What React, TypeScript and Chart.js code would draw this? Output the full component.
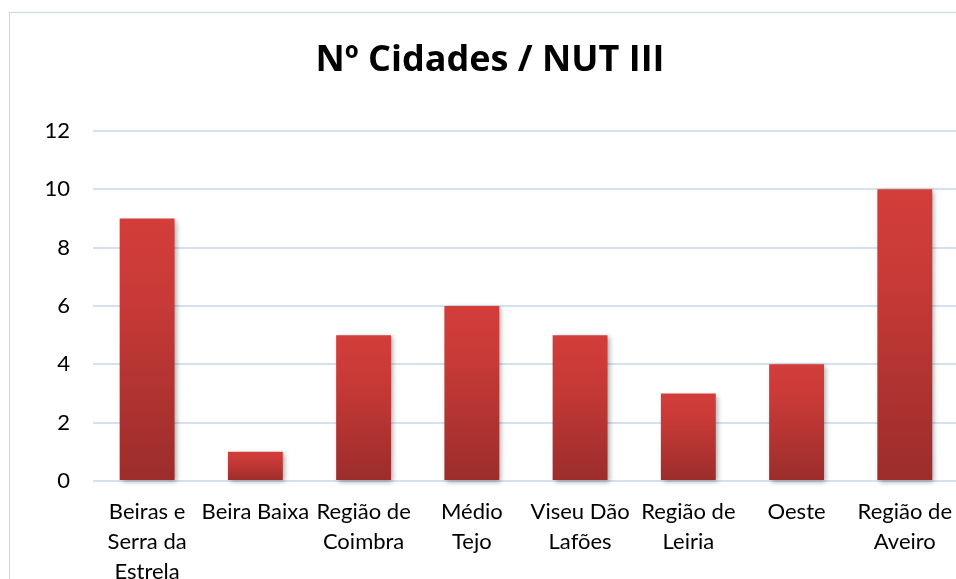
import React, { useEffect, useRef } from "react";
import { Chart, registerables } from "chart.js";

Chart.register(...registerables);

const titleText = "Nº Cidades / NUT III";
const categories: string[][] = [
  ["Beiras e", "Serra da", "Estrela"],
  ["Beira Baixa"],
  ["Região de", "Coimbra"],
  ["Médio", "Tejo"],
  ["Viseu Dão", "Lafões"],
  ["Região de", "Leiria"],
  ["Oeste"],
  ["Região de", "Aveiro"],
];
const values: number[] = [9, 1, 5, 6, 5, 3, 4, 10];
const yMin = 0;
const yMax = 12;
const yStep = 2;

const FONT = "Lato, 'Open Sans', sans-serif";
const TITLE_FONT = "'Open Sans', Lato, sans-serif";

export default function App() {
  const ref = useRef<HTMLCanvasElement | null>(null);

  useEffect(() => {
    if (!ref.current) return;
    const shadowPlugin = {
      id: "barShadow",
      beforeDatasetsDraw(chart: any) {
        const c = chart.ctx;
        c.save();
        c.shadowColor = "rgba(0,0,0,0.35)";
        c.shadowBlur = 5;
        c.shadowOffsetX = 2;
        c.shadowOffsetY = 2;
      },
      afterDatasetsDraw(chart: any) {
        chart.ctx.restore();
      },
    };
    const chart = new Chart(ref.current, {
      type: "bar",
      data: {
        labels: categories,
        datasets: [
          {
            data: values,
            clip: false as any,
            backgroundColor: (ctx: any) => {
              const chart = ctx.chart;
              const ys = chart.scales?.y;
              if (!ys || ctx.dataIndex === undefined) return "#c0393a";
              const v = ctx.dataset.data[ctx.dataIndex];
              const top = ys.getPixelForValue(v);
              const bottom = ys.getPixelForValue(0);
              if (!isFinite(top) || !isFinite(bottom) || top === bottom) return "#c0393a";
              const g = chart.ctx.createLinearGradient(0, top, 0, bottom);
              g.addColorStop(0, "rgb(211,61,58)");
              g.addColorStop(0.3, "rgb(200,58,55)");
              g.addColorStop(1, "rgb(155,45,43)");
              return g;
            },
            borderWidth: 0,
            barPercentage: 0.507,
            categoryPercentage: 1,
          },
        ],
      },
      options: {
        animation: false,
        responsive: false,
        layout: { padding: { left: 20, right: 0, top: 0, bottom: 0 } },
        plugins: {
          legend: { display: false },
          tooltip: { enabled: false },
          title: {
            display: true,
            text: titleText,
            color: "#000",
            font: { family: TITLE_FONT, size: 36, weight: "bold", lineHeight: 1.2 },
            padding: { top: 39.5, bottom: 48.3 },
          },
        },
        scales: {
          x: {
            grid: { display: false },
            border: { display: false },
            ticks: {
              color: "#000",
              font: { family: FONT, size: 22, lineHeight: 1.36 },
              maxRotation: 0,
              autoSkip: false,
              padding: 8,
            },
            afterFit: (s: any) => {
              s.height = 119;
            },
          },
          y: {
            min: yMin,
            max: yMax,
            ticks: {
              stepSize: yStep,
              color: "#000",
              font: { family: FONT, size: 22 },
              padding: 23,
            },
            grid: { color: "#d6e1f0", lineWidth: 2, drawTicks: false },
            border: { display: false },
            afterFit: (s: any) => {
              s.width = 73;
            },
          },
        },
      },
      plugins: [shadowPlugin],
    });
    return () => chart.destroy();
  }, []);

  return (
    <div
      style={{
        position: "fixed",
        left: 0,
        top: 0,
        width: 956,
        height: 579,
        overflow: "hidden",
        background: "#fff",
      }}
    >
      <div
        style={{
          position: "absolute",
          left: 9,
          top: 12,
          width: 2000,
          height: 2000,
          borderLeft: "1px solid #c6d8ef",
          borderTop: "1px solid #c6d8ef",
        }}
      />
      <canvas
        ref={ref}
        width={960}
        height={600}
        style={{ position: "absolute", left: 0, top: 0, width: 960, height: 600 }}
      />
    </div>
  );
}
